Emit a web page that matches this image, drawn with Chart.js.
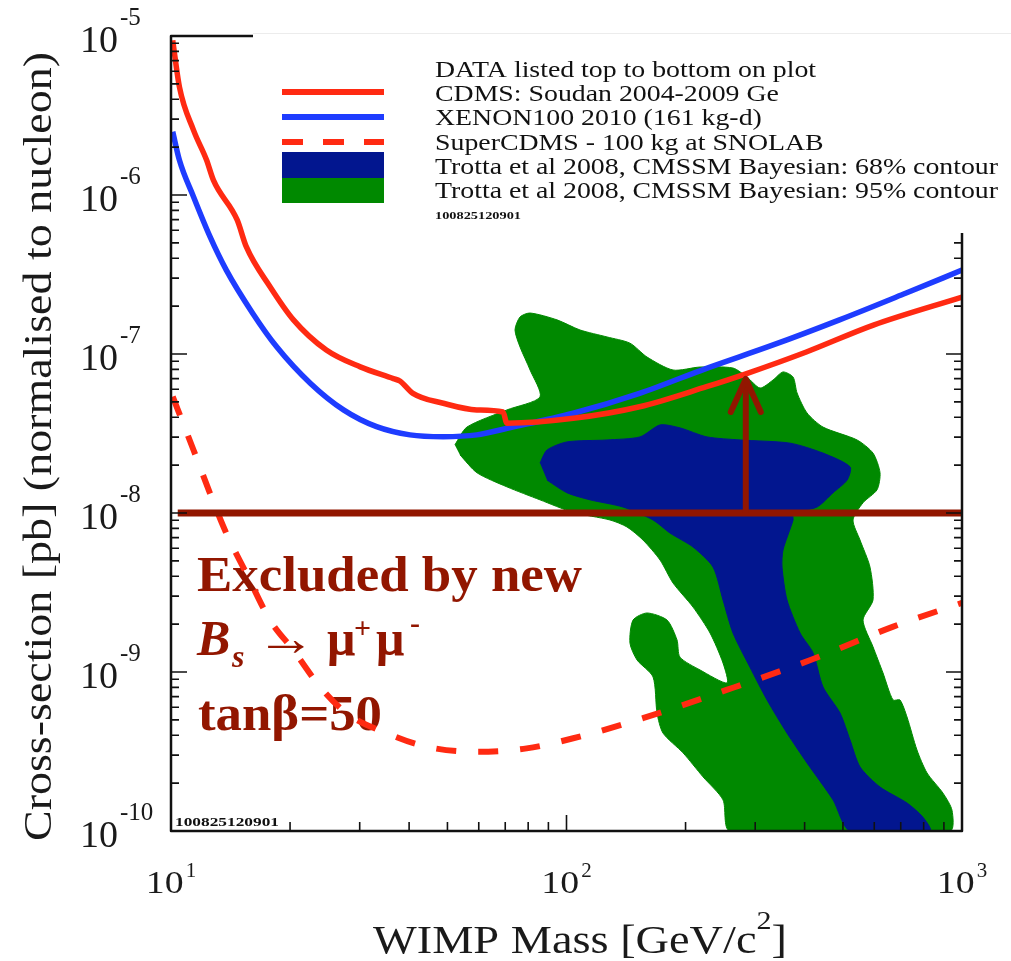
<!DOCTYPE html>
<html>
<head>
<meta charset="utf-8">
<script src="https://cdn.jsdelivr.net/npm/chart.js@4/dist/chart.umd.min.js"></script>
<style>
  body { margin: 0; background: #fff; }
  canvas { display: block; }
</style>
</head>
<body>
<canvas id="wimpChart" width="1011" height="961"></canvas>
<script>
// axis ticks
const massTicks = [10, 100, 1000];
const massTickExp = ['1', '2', '3'];
const sigmaTicks = [1e-5, 1e-6, 1e-7, 1e-8, 1e-9, 1e-10];
const sigmaTickExp = ['-5', '-6', '-7', '-8', '-9', '-10'];

// CDMS Soudan 2004-2009 Ge
const cdmsMass = [10.1, 10.5, 11.4, 12.3, 12.8, 14.7, 15.5, 17.8, 20.4, 24.7, 30.1, 36.5, 37.9, 40.9, 48.8, 59.3, 69.1, 70.7, 104, 153, 226, 283, 404, 597, 1000];
const cdmsSigma = [9.4e-6, 4.8e-6, 2.56e-6, 1.66e-6, 1.24e-6, 6.97e-7, 4.73e-7, 2.65e-7, 1.64e-7, 1.06e-7, 8.3e-8, 7.0e-8, 6.76e-8, 5.66e-8, 4.9e-8, 4.45e-8, 4.32e-8, 3.67e-8, 3.94e-8, 4.66e-8, 6.23e-8, 7.48e-8, 1.03e-7, 1.52e-7, 2.28e-7];

// XENON100 2010
const xenonMass = [10.1, 10.5, 11.4, 12.55, 13.8, 16.1, 18.5, 22.5, 27.3, 33.1, 40.2, 48.8, 59.3, 70.8, 104, 153, 226, 333, 490, 720, 1000];
const xenonSigma = [2.5e-6, 1.66e-6, 9.75e-7, 5.47e-7, 3.37e-7, 1.8e-7, 1.11e-7, 6.55e-8, 4.45e-8, 3.49e-8, 3.1e-8, 3.02e-8, 3.1e-8, 3.41e-8, 4.24e-8, 5.66e-8, 8.13e-8, 1.14e-7, 1.64e-7, 2.41e-7, 3.37e-7];

// SuperCDMS 100 kg projection
const superMass = [10.1, 11.4, 12.55, 13.8, 15.5, 17.8, 20.4, 23.8, 27.8, 35.2, 44.2, 59.3, 79.3, 104, 156, 254, 414, 670, 1000];
const superSigma = [5.39e-8, 2.49e-8, 1.33e-8, 7.45e-9, 4.18e-9, 2.12e-9, 1.37e-9, 8.09e-10, 5.5e-10, 4.11e-10, 3.39e-10, 3.15e-10, 3.31e-10, 3.83e-10, 5.12e-10, 7.71e-10, 1.19e-9, 1.93e-9, 2.72e-9];

// Trotta et al 2008, 95% contour outline
const c95Mass = [52.2, 56.0, 70.7, 85.7, 80.9, 76.3, 74.1, 76.3, 80.9, 94.6, 108.2, 126.6, 144.7, 159.8, 185.9, 217.6, 263.6, 286.1, 308.6, 332.8, 352.7, 374, 382.8, 405.6, 445.3, 542.8, 595.7, 620.5, 609.8, 562.0, 530.2, 552.3, 585.3, 595.7, 562.0, 595.7, 631.4, 669.1, 697.0, 726.1, 769.5, 815.7, 895.4, 943.5, 932.6, 259.0, 248.7, 221.4, 197.1, 175.4, 169.4, 165.5, 150.8, 144.7, 147.3, 159.8, 179.6, 190.3, 193.6, 217.6, 254.6, 248.7, 230.6, 208.9, 185.9, 172.4, 156.1, 142.2, 128.8, 103.8, 85.7, 70.7, 59.4, 53.8];
const c95Sigma = [2.68e-8, 3.47e-8, 4.45e-8, 5.37e-8, 7.93e-8, 1.107e-7, 1.416e-7, 1.71e-7, 1.81e-7, 1.64e-7, 1.416e-7, 1.28e-7, 1.17e-7, 9.57e-8, 7.93e-8, 8.28e-8, 8.16e-8, 7.16e-8, 6.11e-8, 6.86e-8, 7.71e-8, 7.16e-8, 5.69e-8, 4.26e-8, 3.47e-8, 2.88e-8, 2.38e-8, 1.79e-8, 1.40e-8, 1.16e-8, 9.04e-9, 6.76e-9, 4.57e-9, 2.84e-9, 2.12e-9, 1.44e-9, 9.86e-10, 6.67e-10, 6.67e-10, 5.21e-10, 3.23e-10, 2.32e-10, 1.73e-10, 1.35e-10, 1e-10, 1e-10, 1.57e-10, 2.19e-10, 3.10e-10, 4.13e-10, 5.52e-10, 9.31e-10, 1.19e-9, 1.52e-9, 2.12e-9, 2.35e-9, 2.12e-9, 1.59e-9, 1.24e-9, 1.03e-9, 8.53e-10, 1.14e-9, 1.76e-9, 2.56e-9, 3.63e-9, 5.06e-9, 6.76e-9, 8.17e-9, 9.04e-9, 1.01e-8, 1.21e-8, 1.46e-8, 1.79e-8, 2.32e-8];

// Trotta et al 2008, 68% contour outline
const c68Mass = [85.7, 89.3, 100.3, 126.6, 153.4, 172.4, 193.6, 226.6, 274.7, 367.4, 445.3, 521.2, 512.1, 471.9, 429.9, 374, 374, 352.7, 350.7, 361.0, 389.5, 420.1, 445.3, 491.6, 521.2, 552.3, 620.5, 726.1, 796.9, 830.1, 521.2, 471.9, 405.6, 361.0, 321.4, 291.1, 263.6, 248.7, 234.7, 208.9, 182.7, 165.5, 139.0, 114.7, 100.3, 89.3];
const c68Sigma = [2.06e-8, 2.49e-8, 2.80e-8, 2.88e-8, 3.01e-8, 3.58e-8, 3.43e-8, 3.01e-8, 2.88e-8, 2.75e-8, 2.38e-8, 1.95e-8, 1.61e-8, 1.34e-8, 1.09e-8, 1.0e-8, 9.04e-9, 5.85e-9, 4.57e-9, 2.84e-9, 1.76e-9, 1.32e-9, 8.05e-10, 5.52e-10, 3.73e-10, 2.53e-10, 1.89e-10, 1.50e-10, 1.22e-10, 1e-10, 1e-10, 1.57e-10, 2.68e-10, 4.13e-10, 6.67e-10, 1.07e-9, 1.76e-9, 2.84e-9, 4.57e-9, 6.11e-9, 7.48e-9, 9.04e-9, 1.09e-8, 1.21e-8, 1.34e-8, 1.61e-8];

// Bs -> mu mu exclusion line and arrow
const bsLimitMass = [10.4, 1000];
const bsLimitSigma = [1e-8, 1e-8];
const arrowMass = [284, 284];
const arrowSigma = [1e-8, 6.97e-8];

const legendLabels = [
  'DATA listed top to bottom on plot',
  'CDMS: Soudan 2004-2009 Ge',
  'XENON100 2010 (161 kg-d)',
  'SuperCDMS - 100 kg at SNOLAB',
  'Trotta et al 2008, CMSSM Bayesian: 68% contour',
  'Trotta et al 2008, CMSSM Bayesian: 95% contour'
];

const RED = '#ff2a12';
const BLUE = '#1e3cff';
const GREEN = '#008900';
const NAVY = '#02168f';
const DARKRED = '#921600';
const SERIF = '"Liberation Serif", "Times New Roman", serif';

function zip(xs, ys) {
  return xs.map((x, i) => ({x: x, y: ys[i]}));
}

// draw text squeezed/stretched to a given width
function fitText(ctx, text, x, y, width) {
  const w = ctx.measureText(text).width;
  ctx.save();
  ctx.translate(x, y);
  ctx.scale(width / w, 1);
  ctx.textAlign = 'left';
  ctx.fillText(text, 0, 0);
  ctx.restore();
}

const overlay = {
  id: 'overlay',
  beforeDatasetsDraw(chart) {
    const ctx = chart.ctx;
    ctx.save();
    ctx.fillStyle = DARKRED;
    ctx.textBaseline = 'alphabetic';
    ctx.font = 'bold 50px ' + SERIF;
    fitText(ctx, 'Excluded by new', 197, 591, 385);
    ctx.font = 'italic bold 50px ' + SERIF;
    ctx.fillText('B', 197, 655);
    ctx.font = 'italic bold 32px ' + SERIF;
    ctx.fillText('s', 232, 667);
    ctx.font = 'bold 50px ' + SERIF;
    fitText(ctx, '\u2192', 256, 655, 60);
    ctx.fillText('\u03bc', 327, 655);
    ctx.fillText('\u03bc', 376, 655);
    ctx.font = 'bold 30px ' + SERIF;
    ctx.fillText('+', 354, 638);
    ctx.fillText('-', 410, 633);
    ctx.font = 'bold 50px ' + SERIF;
    fitText(ctx, 'tan\u03b2=50', 198, 730, 184);
    ctx.restore();
  },
  afterDatasetsDraw(chart) {
    const ctx = chart.ctx;
    const xs = chart.scales.x, ys = chart.scales.y;
    const {left, right, top, bottom} = chart.chartArea;
    ctx.save();

    // arrow head
    const tipX = xs.getPixelForValue(arrowMass[1]);
    const tipY = ys.getPixelForValue(arrowSigma[1]);
    ctx.strokeStyle = DARKRED;
    ctx.lineWidth = 6;
    ctx.lineCap = 'round';
    ctx.lineJoin = 'round';
    ctx.beginPath();
    ctx.moveTo(tipX - 15, tipY + 33);
    ctx.lineTo(tipX, tipY);
    ctx.lineTo(tipX + 15, tipY + 33);
    ctx.stroke();

    // frame
    ctx.lineCap = 'butt';
    ctx.strokeStyle = '#111';
    ctx.lineWidth = 2.5;
    ctx.strokeRect(left, top, right - left, bottom - top);

    // inward ticks
    ctx.lineWidth = 1.6;
    ctx.beginPath();
    for (let e = -10; e < -5; e++) {
      for (let k = 1; k <= 9; k++) {
        const py = ys.getPixelForValue(k * Math.pow(10, e));
        const len = k === 1 ? 16 : 8;
        ctx.moveTo(left, py); ctx.lineTo(left + len, py);
        ctx.moveTo(right, py); ctx.lineTo(right - len, py);
      }
    }
    for (let e = 1; e < 3; e++) {
      for (let k = 1; k <= 9; k++) {
        const px = xs.getPixelForValue(k * Math.pow(10, e));
        const len = k === 1 ? 16 : 9;
        ctx.moveTo(px, bottom); ctx.lineTo(px, bottom - len);
        ctx.moveTo(px, top); ctx.lineTo(px, top + len);
      }
    }
    ctx.stroke();

    // tiny stamp bottom-left
    ctx.fillStyle = '#111';
    ctx.font = 'bold 13px ' + SERIF;
    fitText(ctx, '100825120901', left + 4, bottom - 5, 104);

    // y tick labels
    ctx.fillStyle = '#1a1a1a';
    sigmaTicks.forEach((v, i) => {
      const py = ys.getPixelForValue(v);
      ctx.font = '38px ' + SERIF;
      ctx.fillText('10', 80, py + 16);
      const w = ctx.measureText('10').width;
      ctx.font = '25px ' + SERIF;
      ctx.fillText(sigmaTickExp[i], 80 + w + 2, py - 11);
    });

    // x tick labels
    massTicks.forEach((v, i) => {
      const px = xs.getPixelForValue(v);
      ctx.font = '31px ' + SERIF;
      const w1 = ctx.measureText('10').width * 1.22;
      ctx.font = '21px ' + SERIF;
      const w2 = ctx.measureText(massTickExp[i]).width;
      const x0 = px - (w1 + 2 + w2) / 2;
      ctx.font = '31px ' + SERIF;
      fitText(ctx, '10', x0, 893, w1);
      ctx.font = '21px ' + SERIF;
      ctx.fillText(massTickExp[i], x0 + w1 + 2, 877);
    });

    // x title
    ctx.font = '40px ' + SERIF;
    const t1 = 'WIMP Mass [GeV/c';
    const a = ctx.measureText(t1).width;
    const b = ctx.measureText(']').width;
    ctx.font = '26px ' + SERIF;
    const c = ctx.measureText('2').width;
    const s = (787 - 373) / (a + b + c);
    ctx.font = '40px ' + SERIF;
    fitText(ctx, t1, 373, 953, a * s);
    ctx.font = '26px ' + SERIF;
    fitText(ctx, '2', 373 + a * s, 929, c * s);
    ctx.font = '40px ' + SERIF;
    fitText(ctx, ']', 373 + (a + c) * s, 953, b * s);

    // y title
    ctx.save();
    ctx.translate(51, 447);
    ctx.rotate(-Math.PI / 2);
    ctx.font = '40px ' + SERIF;
    const yt = 'Cross-section [pb] (normalised to nucleon)';
    fitText(ctx, yt, -394, 0, 789);
    ctx.restore();

    // legend panel
    ctx.fillStyle = '#fff';
    ctx.fillRect(253, 33, 1011 - 253, 200);
    ctx.strokeStyle = '#ececec';
    ctx.lineWidth = 1;
    ctx.beginPath();
    ctx.moveTo(253, 33.5); ctx.lineTo(1011, 33.5);
    ctx.stroke();

    ctx.lineWidth = 6;
    ctx.strokeStyle = RED;
    ctx.beginPath(); ctx.moveTo(282, 92); ctx.lineTo(384, 92); ctx.stroke();
    ctx.strokeStyle = BLUE;
    ctx.beginPath(); ctx.moveTo(282, 117); ctx.lineTo(384, 117); ctx.stroke();
    ctx.strokeStyle = RED;
    ctx.setLineDash([21, 20]);
    ctx.beginPath(); ctx.moveTo(282, 142); ctx.lineTo(384, 142); ctx.stroke();
    ctx.setLineDash([]);
    ctx.fillStyle = NAVY;
    ctx.fillRect(282, 152, 102, 26);
    ctx.fillStyle = GREEN;
    ctx.fillRect(282, 178, 102, 25);

    ctx.fillStyle = '#111';
    ctx.font = '24px ' + SERIF;
    const longest = ctx.measureText(legendLabels[5]).width;
    const ls = 563 / longest;
    legendLabels.forEach((txt, i) => {
      fitText(ctx, txt, 435, 77 + i * 24.2, ctx.measureText(txt).width * ls);
    });
    ctx.font = 'bold 11px ' + SERIF;
    fitText(ctx, '100825120901', 435, 219, 86);

    ctx.restore();
  }
};

const ctx = document.getElementById('wimpChart').getContext('2d');

new Chart(ctx, {
  type: 'scatter',
  data: {
    datasets: [
      {
        label: 'Trotta 95%', data: zip(c95Mass, c95Sigma), showLine: true,
        fill: 'shape', backgroundColor: GREEN, borderColor: GREEN, borderWidth: 1,
        pointRadius: 0, tension: 0.25, order: 7
      },
      {
        label: 'Trotta 68%', data: zip(c68Mass, c68Sigma), showLine: true,
        fill: 'shape', backgroundColor: NAVY, borderColor: NAVY, borderWidth: 1,
        pointRadius: 0, tension: 0.25, order: 6
      },
      {
        label: 'SuperCDMS', data: zip(superMass, superSigma), showLine: true,
        borderColor: RED, borderWidth: 6, borderDash: [20, 22], pointRadius: 0,
        cubicInterpolationMode: 'monotone', order: 5
      },
      {
        label: 'XENON100', data: zip(xenonMass, xenonSigma), showLine: true,
        borderColor: BLUE, borderWidth: 5.5, pointRadius: 0,
        cubicInterpolationMode: 'monotone', order: 4
      },
      {
        label: 'CDMS', data: zip(cdmsMass, cdmsSigma), showLine: true,
        borderColor: RED, borderWidth: 5.5, pointRadius: 0,
        cubicInterpolationMode: 'monotone', order: 3
      },
      {
        label: 'Bs limit', data: zip(bsLimitMass, bsLimitSigma), showLine: true,
        borderColor: DARKRED, borderWidth: 7, pointRadius: 0, order: 2
      },
      {
        label: 'arrow', data: zip(arrowMass, arrowSigma), showLine: true,
        borderColor: DARKRED, borderWidth: 6, pointRadius: 0, order: 1
      }
    ]
  },
  options: {
    responsive: false,
    animation: false,
    layout: { padding: { top: 36, right: 49, left: 0, bottom: 0 } },
    scales: {
      x: {
        type: 'logarithmic', min: 10, max: 1000,
        grid: { display: false }, border: { display: false },
        ticks: { display: false },
        afterFit: (scale) => { scale.height = 130; }
      },
      y: {
        type: 'logarithmic', min: 1e-10, max: 1e-5,
        grid: { display: false }, border: { display: false },
        ticks: { display: false },
        afterFit: (scale) => { scale.width = 171; }
      }
    },
    plugins: {
      legend: { display: false },
      tooltip: { enabled: false }
    }
  },
  plugins: [overlay]
});
</script>
</body>
</html>
